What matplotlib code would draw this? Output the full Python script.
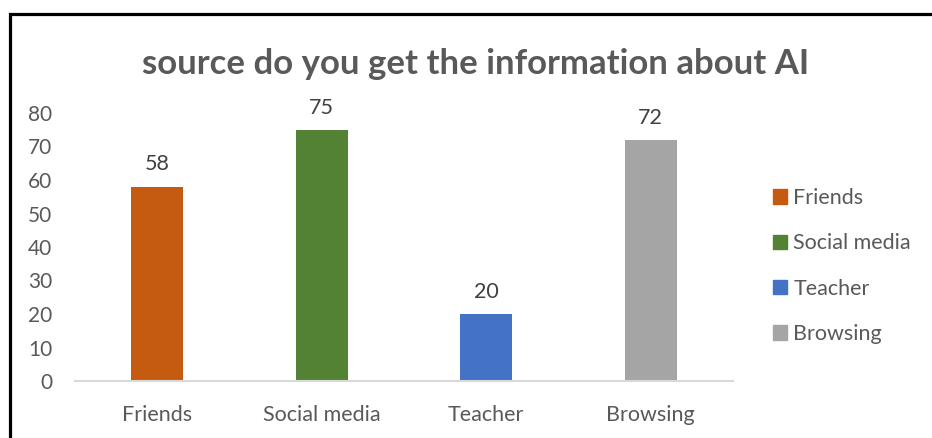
import matplotlib.pyplot as plt
from matplotlib.lines import Line2D

plt.rcParams['font.family'] = ['Lato', 'DejaVu Sans']

W, H = 932, 438

categories = ["Friends", "Social media", "Teacher", "Browsing"]
counts = [58, 75, 20, 72]
colors = ["#C55A11", "#548235", "#4472C4", "#A5A5A5"]
y_ticks = [0, 10, 20, 30, 40, 50, 60, 70, 80]

text_color = "#595959"

fig = plt.figure(figsize=(W / 100, H / 100), dpi=100)
ax = fig.add_axes([75 / W, (H - 381) / H, 658 / W, (381 - 113) / H])

x = list(range(len(categories)))
bars = ax.bar(x, counts, width=0.317, color=colors, label=categories, zorder=2)

for rect, v in zip(bars, counts):
    ax.annotate(str(v), (rect.get_x() + rect.get_width() / 2, v),
                xytext=(0, 16), textcoords="offset points",
                ha="center", va="center", fontsize=15.5, color="#404040")

ax.set_xlim(-0.5, 3.5)
ax.set_ylim(0, 80)
ax.set_yticks(y_ticks)
ax.set_xticks(x)
ax.set_xticklabels(categories)
ax.tick_params(axis="y", length=0, pad=16.5, labelsize=15, labelcolor=text_color)
ax.tick_params(axis="x", length=0, pad=17.5, labelsize=15.5, labelcolor=text_color)

for side in ["top", "right", "left"]:
    ax.spines[side].set_visible(False)
ax.spines["bottom"].set_color("#D9D9D9")
ax.spines["bottom"].set_linewidth(1.5)

fig.text(476 / W, (H - 64) / H, "source do you get the information about AI",
         ha="center", va="center", fontsize=25, fontweight="bold", color=text_color)

handles = [plt.Rectangle((0, 0), 1, 1, color=c) for c in colors]
fig.legend(handles, categories, loc="upper left",
           bbox_to_anchor=(773 / W, (H - 188) / H), frameon=False,
           fontsize=15.5, labelcolor=text_color, handlelength=0.65, handleheight=0.65,
           handletextpad=0.3, labelspacing=1.18, borderpad=0, borderaxespad=0)

# outer frame: left and top edges only
fig.add_artist(Line2D([9.5 / W, 9.5 / W, 1], [0, (H - 14) / H, (H - 14) / H],
                      transform=fig.transFigure, color="black", linewidth=2.3,
                      solid_joinstyle="miter"))

fig.savefig("out.png", dpi=100)
